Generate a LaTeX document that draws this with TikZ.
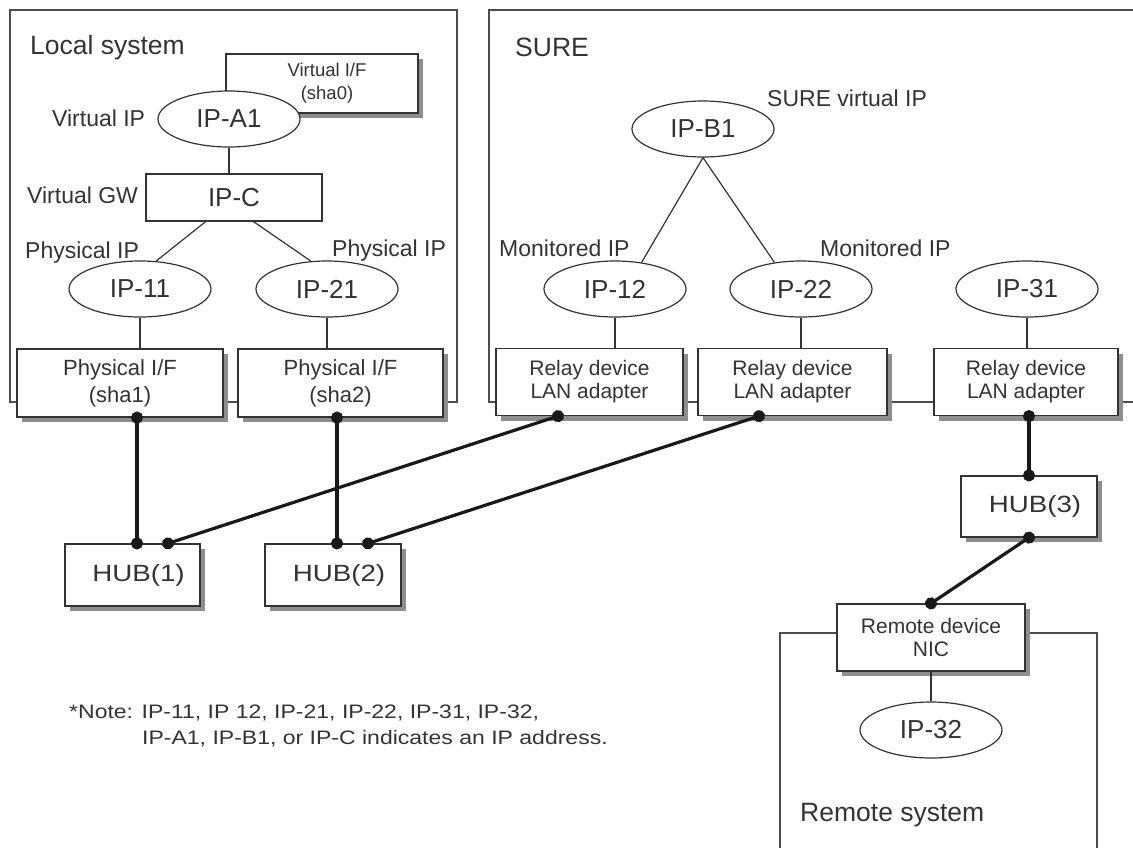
\documentclass[tikz,border=0pt]{standalone}
\usepackage{fontspec}
\setmainfont{Liberation Sans}
\newfontfamily\widefont{Liberation Sans}[FakeStretch=1.18]
\usetikzlibrary{positioning,shapes,calc,arrows.meta}
\usetikzlibrary{shapes.geometric,shadows}
\definecolor{ink}{HTML}{333333}
\definecolor{shade}{HTML}{8E8E8E}

\begin{document}
\begin{tikzpicture}[x=1pt,y=-1pt,color=ink,
    frame/.style={draw=black!70,line width=1.4pt},
    link/.style={draw=ink,line width=1.2pt},
    cable/.style={draw=black!90,line width=3.2pt,{Circle[length=12pt]}-{Circle[length=12pt]},
      shorten <=-6pt,shorten >=-6pt},
    ipnode/.style={ellipse,draw,fill=white,line width=1.2pt,minimum width=142pt,
      minimum height=56pt,inner sep=0pt,font=\fontsize{26}{28}\selectfont},
    plainbox/.style={rectangle,draw,fill=white,line width=1.2pt,inner sep=0pt,align=center},
    devbox/.style={plainbox,minimum height=67pt,font=\fontsize{21}{23}\selectfont,
      drop shadow={shadow xshift=5pt,shadow yshift=-5pt,fill=shade,opacity=1}},
    hubbox/.style={devbox,minimum width=136pt,minimum height=62pt,
      font=\widefont\fontsize{23.5}{28}\selectfont},
    tag/.style={anchor=west,inner sep=0pt,text height=16.5pt,text depth=0pt,
      font=\fontsize{23}{25}\selectfont},
    sysname/.style={anchor=west,inner sep=0pt,text height=18pt,text depth=0pt,
      font=\fontsize{26.5}{28}\selectfont}
]
      \useasboundingbox (0,0) rectangle (1133,847);
      \clip (0,0) rectangle (1133,847);

      \draw [frame] (10,10) rectangle (457,402);
      \draw [frame] (1150,10) -| (489,402) -- (1150,402);
      \draw [frame] (780,860) |- (1097,633) -- (1097,860);

      \node [sysname] (local) at (30,45) {Local system};
      \node [sysname] (sure) at (515,47) {SURE};
      \node [sysname] (remote) at (800,812) {Remote system};

      \node [devbox,minimum width=192pt,minimum height=59pt,font=\fontsize{18.5}{23}\selectfont]
        (vif) at (322,83.5) {\hspace*{10pt}Virtual I/F\\\hspace*{10pt}(sha0)};
      \node [ipnode] (ipa1) at (229,119) {IP-A1};
      \node [plainbox,minimum width=176pt,minimum height=47pt,font=\fontsize{26}{28}\selectfont]
        (ipc) at (234,197.5) {IP-C};
      \node [ipnode] (ip11) at (140,289) {IP-11};
      \node [ipnode] (ip21) at (327,289) {IP-21};
      \node [devbox,minimum width=206pt,minimum height=68pt,font=\fontsize{22}{27}\selectfont]
        (sha1) at (120,383) {Physical I/F\\(sha1)};
      \node [devbox,minimum width=205pt,minimum height=68pt,font=\fontsize{22}{27}\selectfont]
        (sha2) at (340.5,383) {Physical I/F\\(sha2)};

      \node [ipnode] (ipb1) at (703,129) {IP-B1};
      \node [ipnode] (ip12) at (615,289) {IP-12};
      \node [ipnode] (ip22) at (801,289) {IP-22};
      \node [ipnode] (ip31) at (1027,289) {IP-31};
      \node [devbox,minimum width=187pt] (relay1) at (589.5,382) {Relay device\\LAN adapter};
      \node [devbox,minimum width=189pt] (relay2) at (792.5,382) {Relay device\\LAN adapter};
      \node [devbox,minimum width=184pt] (relay3) at (1026,382) {Relay device\\LAN adapter};

      \node [hubbox,minimum width=135pt] (hub1) at (132.5,575) {\hspace*{12pt}HUB(1)};
      \node [hubbox] (hub2) at (333,575) {\hspace*{12pt}HUB(2)};
      \node [hubbox,minimum height=61pt] (hub3) at (1029,506.5) {\hspace*{12pt}HUB(3)};
      \node [devbox,minimum width=188pt] (nic) at (931,637.5) {Remote device\\NIC};
      \node [ipnode] (ip32) at (931,730) {IP-32};

      \node [tag] (viplabel) at (52,118) {Virtual IP};
      \node [tag] (vgwlabel) at (27,195) {Virtual GW};
      \node [tag] (piplabel1) at (25,250) {Physical IP};
      \node [tag] (piplabel2) at (332,248) {Physical IP};
      \node [tag] (sviplabel) at (767,98) {SURE virtual IP};
      \node [tag] (miplabel1) at (499,248) {Monitored IP};
      \node [tag] (miplabel2) at (820,248) {Monitored IP};

      \node [anchor=north west,inner sep=0pt,align=left,font=\widefont\fontsize{19.5}{26}\selectfont]
        (note) at (69,705) {*Note: IP-11, IP 12, IP-21, IP-22, IP-31, IP-32,\\
        \hspace*{73pt}IP-A1, IP-B1, or IP-C indicates an IP address.};

      \draw [link] (ipa1.south) -- (ipa1.south |- ipc.north);
      \draw [link] ($(ipc.south west)!.34!(ipc.south east)$) -- (ip11.60);
      \draw [link] ($(ipc.south west)!.61!(ipc.south east)$) -- (ip21.120);
      \draw [link] (ip11.south) -- (ip11.south |- sha1.north);
      \draw [link] (ip21.south) -- (ip21.south |- sha2.north);
      \draw [link] (ipb1.south) -- (ip12.45);
      \draw [link] (ipb1.south) -- (ip22.135);
      \draw [link] (ip12.south) -- (ip12.south |- relay1.north);
      \draw [link] (ip22.south) -- (ip22.south |- relay2.north);
      \draw [link] (ip31.south) -- (ip31.south |- relay3.north);
      \draw [link] (nic.south) -- (ip32.north);

      \draw [cable] ($(sha1.south)+(17,0)$) -- ($(hub1.north)+(4.5,0)$);
      \draw [cable] ($(relay1.south)+(-31.5,0)$) -- ($(hub1.north)+(35.5,0)$);
      \draw [cable] ($(sha2.south)+(-3.5,0)$) -- ($(hub2.north)+(4,0)$);
      \draw [cable] ($(relay2.south)+(-33.5,0)$) -- ($(hub2.north)+(35,0)$);
      \draw [cable] (relay3.south -| hub3.north) -- (hub3.north);
      \draw [cable] (hub3.south) -- (nic.north);
\end{tikzpicture}
\end{document}
